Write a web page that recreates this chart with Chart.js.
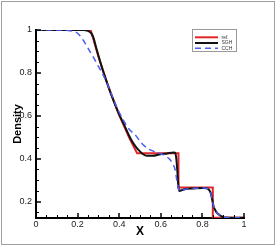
<!DOCTYPE html>
<html>
<head>
<meta charset="utf-8">
<script src="https://cdn.jsdelivr.net/npm/chart.js@4.4.1/dist/chart.umd.min.js"></script>
<style>
html,body{margin:0;padding:0;background:#fff;}
#wrap{width:277px;height:246px;position:relative;}
</style>
</head>
<body>
<div id="wrap"><canvas id="c" width="277" height="246"></canvas></div>
<script>
// ---- data ----
const seriesNames = ['ref.', 'SGH', 'CCH'];
const xRef = [0, 0.263, 0.28, 0.3, 0.35, 0.4, 0.45, 0.486, 0.685, 0.685, 0.85, 0.85, 1];
const yRef = [1, 1, 0.943, 0.877, 0.730, 0.603, 0.494, 0.426, 0.426, 0.2656, 0.2656, 0.125, 0.125];

const xSGH = [0, 0.23, 0.245, 0.255, 0.265, 0.276, 0.29, 0.32, 0.36, 0.396, 0.43, 0.453, 0.48, 0.5, 0.515, 0.533, 0.56, 0.597, 0.63, 0.661, 0.668, 0.674, 0.679, 0.683, 0.688, 0.7, 0.718, 0.76, 0.805, 0.82, 0.832, 0.84, 0.846, 0.854, 0.862, 0.87, 0.882, 0.894, 0.905, 1];
const ySGH = [1, 1, 0.998, 0.993, 0.985, 0.965, 0.915, 0.816, 0.703, 0.615, 0.545, 0.497, 0.455, 0.434, 0.421, 0.414, 0.414, 0.421, 0.425, 0.429, 0.428, 0.405, 0.35, 0.29, 0.25, 0.253, 0.259, 0.262, 0.264, 0.263, 0.255, 0.24, 0.215, 0.178, 0.16, 0.148, 0.138, 0.131, 0.126, 0.125];

const xCCH = [0, 0.12, 0.15, 0.18, 0.2, 0.228, 0.25, 0.276, 0.3, 0.316, 0.356, 0.388, 0.42, 0.45, 0.477, 0.51, 0.549, 0.58, 0.613, 0.645, 0.658, 0.669, 0.677, 0.684, 0.689, 0.7, 0.72, 0.76, 0.805, 0.82, 0.832, 0.84, 0.846, 0.854, 0.862, 0.87, 0.882, 0.894, 0.905, 1];
const yCCH = [1, 1, 0.998, 0.993, 0.985, 0.951, 0.915, 0.873, 0.83, 0.804, 0.719, 0.641, 0.58, 0.535, 0.511, 0.47, 0.441, 0.43, 0.418, 0.395, 0.375, 0.349, 0.30, 0.265, 0.25, 0.252, 0.258, 0.262, 0.264, 0.263, 0.255, 0.24, 0.215, 0.178, 0.16, 0.148, 0.138, 0.131, 0.126, 0.125];

const xTickValues = [0, 0.2, 0.4, 0.6, 0.8, 1];
const xTickLabels = ['0', '0.2', '0.4', '0.6', '0.8', '1'];
const yTickValues = [0.2, 0.4, 0.6, 0.8, 1];
const yTickLabels = ['0.2', '0.4', '0.6', '0.8', '1'];
const xMinorTicks = [0.05,0.1,0.15,0.25,0.3,0.35,0.45,0.5,0.55,0.65,0.7,0.75,0.85,0.9,0.95];
const yMinorTicks = [0.15,0.25,0.3,0.35,0.45,0.5,0.55,0.65,0.7,0.75,0.85,0.9,0.95];
const xTitle = 'X';
const yTitle = 'Density';

function pts(xs, ys){ return xs.map((x,i)=>({x:x, y:ys[i]})); }

const colors = ['#e3262b', '#111111', '#4b5cf0'];

const framePlugin = {
  id: 'frame',
  beforeDraw(chart){
    const ctx = chart.ctx;
    ctx.save();
    ctx.fillStyle = '#fff';
    ctx.fillRect(0,0,chart.width,chart.height);
    ctx.restore();
  },
  afterDraw(chart){
    const ctx = chart.ctx;
    const xs = chart.scales.x, ys = chart.scales.y;
    const ca = chart.chartArea;
    ctx.save();
    // frame
    ctx.strokeStyle = '#a0a0a0';
    ctx.lineWidth = 1;
    ctx.strokeRect(1.5, 1.5, 273, 243);
    // ticks (inward)
    ctx.strokeStyle = '#000';
    ctx.lineWidth = 1.5;
    xTickValues.forEach(v=>{
      const p = Math.round(xs.getPixelForValue(v));
      ctx.beginPath(); ctx.moveTo(p, ca.bottom); ctx.lineTo(p, ca.bottom-5); ctx.stroke();
    });
    yTickValues.forEach(v=>{
      const p = Math.round(ys.getPixelForValue(v));
      ctx.beginPath(); ctx.moveTo(ca.left, p); ctx.lineTo(ca.left+5, p); ctx.stroke();
    });
    ctx.lineWidth = 1;
    xMinorTicks.forEach(v=>{
      const p = Math.round(xs.getPixelForValue(v))+0.5;
      ctx.beginPath(); ctx.moveTo(p, ca.bottom); ctx.lineTo(p, ca.bottom-3); ctx.stroke();
    });
    yMinorTicks.forEach(v=>{
      const p = Math.round(ys.getPixelForValue(v))+0.5;
      ctx.beginPath(); ctx.moveTo(ca.left, p); ctx.lineTo(ca.left+3, p); ctx.stroke();
    });
    // legend
    const bx = 192.5, by = 29.5, bw = 44, bh = 22;
    ctx.strokeStyle = '#999';
    ctx.lineWidth = 1;
    ctx.fillStyle = '#fff';
    ctx.fillRect(bx, by, bw, bh);
    ctx.strokeRect(bx, by, bw, bh);
    const rows = [37.3, 43, 48.3];
    chart.data.datasets.forEach((ds, i)=>{
      const yy = rows[i];
      ctx.strokeStyle = ds.borderColor;
      ctx.lineWidth = ds.borderWidth;
      ctx.setLineDash(ds.borderDash || []);
      ctx.beginPath(); ctx.moveTo(195, yy); ctx.lineTo(218, yy); ctx.stroke();
      ctx.setLineDash([]);
      ctx.fillStyle = '#333';
      ctx.font = '5px "Liberation Sans", Arial, sans-serif';
      ctx.textBaseline = 'middle';
      ctx.textAlign = 'left';
      ctx.fillText(ds.label, 221.5, yy);
    });
    ctx.restore();
  }
};

new Chart(document.getElementById('c'), {
  type: 'line',
  data: {
    datasets: [
      {label: seriesNames[0], data: pts(xRef, yRef), borderColor: colors[0], borderWidth: 2, pointRadius: 0, tension: 0, order: 3},
      {label: seriesNames[1], data: pts(xSGH, ySGH), borderColor: colors[1], borderWidth: 2, pointRadius: 0, cubicInterpolationMode: 'monotone', order: 2},
      {label: seriesNames[2], data: pts(xCCH, yCCH), borderColor: colors[2], borderWidth: 1.5, borderDash: [6, 4], pointRadius: 0, cubicInterpolationMode: 'monotone', order: 1}
    ]
  },
  options: {
    responsive: false,
    animation: false,
    devicePixelRatio: 1,
    layout: {padding: {top: 30, right: 33, left: 0, bottom: 0}},
    plugins: {legend: {display: false}, tooltip: {enabled: false}},
    scales: {
      x: {
        type: 'linear', min: 0, max: 1,
        afterBuildTicks: s => { s.ticks = xTickValues.map(v=>({value:v})); },
        afterFit: s => { s.height = 28; },
        grid: {display: false, drawTicks: false},
        border: {display: true, color: '#000', width: 2},
        ticks: {
          padding: 1,
          color: '#222',
          font: {family: '"Liberation Sans", Arial, sans-serif', size: 9},
          callback: (v, i) => xTickLabels[i],
          maxRotation: 0, autoSkip: false
        },
        title: {display: true, text: xTitle, color: '#000', font: {family: '"Liberation Sans", Arial, sans-serif', size: 12, weight: 'bold'}, padding: {top: 0, bottom: 7}}
      },
      y: {
        type: 'linear', min: 0.124, max: 1,
        afterBuildTicks: s => { s.ticks = yTickValues.map(v=>({value:v})); },
        afterFit: s => { s.width = 36; },
        grid: {display: false, drawTicks: false},
        border: {display: true, color: '#000', width: 2},
        ticks: {
          padding: 4,
          color: '#222',
          font: {family: '"Liberation Sans", Arial, sans-serif', size: 9},
          callback: (v, i) => yTickLabels[i],
          autoSkip: false
        },
        title: {display: true, text: yTitle, color: '#000', font: {family: '"Liberation Sans", Arial, sans-serif', size: 11, weight: 'bold'}, padding: {top: 11, bottom: 0}}
      }
    }
  },
  plugins: [framePlugin]
});
</script>
</body>
</html>
